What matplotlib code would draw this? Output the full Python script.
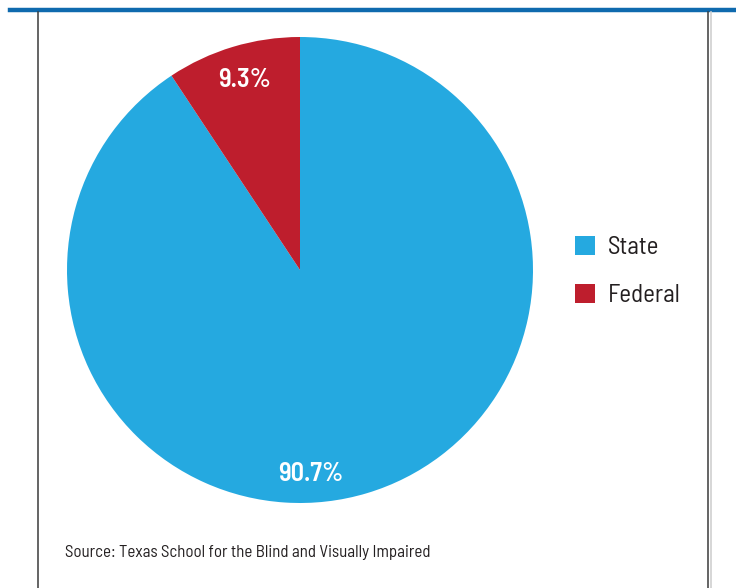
import matplotlib.pyplot as plt
from matplotlib.lines import Line2D

categories = ["State", "Federal"]
shares = [90.7, 9.3]
label_text = ["90.7%", "9.3%"]

BLUE = "#25A9E0"
RED = "#BE1E2D"
FRAME = "#0F6AAE"
GRAY = "#3A3A3A"
INK = "#231F20"

plt.rcParams["font.family"] = ["Barlow Semi Condensed", "DejaVu Sans"]
plt.rcParams["font.stretch"] = "condensed"

W, H = 736, 588
fig = plt.figure(figsize=(W / 100, H / 100), dpi=100)


def px(x, y):
    return x / W, 1 - y / H


# frame: blue rule on top, thin gray sides
fig.add_artist(Line2D([10 / W, 1], [1 - 9.5 / H] * 2, color=FRAME, linewidth=3.2))
for x in (38, 708):
    fig.add_artist(Line2D([x / W] * 2, [0, 1 - 12 / H], color=GRAY, linewidth=1.1))
fig.add_artist(Line2D([710.5 / W] * 2, [0, 1 - 12 / H], color="#D0D0D0", linewidth=1.2))

cx, cy, r = 300, 270, 233
ax = fig.add_axes([(cx - r) / W, 1 - (cy + r) / H, 2 * r / W, 2 * r / H])
wedges, _ = ax.pie(shares, colors=[BLUE, RED], startangle=90, counterclock=False,
                   radius=1, wedgeprops={"linewidth": 0})
ax.set_xlim(-1, 1)
ax.set_ylim(-1, 1)
ax.set_aspect("equal")
ax.axis("off")

# percentage labels
ax.text(0.047, -0.875, label_text[0], color="white", fontsize=19, fontweight="semibold",
        ha="center", va="center")
ax.text(-0.236, 0.817, label_text[1], color="white", fontsize=19, fontweight="semibold",
        ha="center", va="center")

fig.legend(wedges, categories, loc="upper left", bbox_to_anchor=px(552, 213),
           frameon=False, fontsize=18, handlelength=0.8, handleheight=0.8,
           handletextpad=0.55, labelspacing=1.0, labelcolor=INK)

fig.text(*px(65, 552), "Source: Texas School for the Blind and Visually Impaired",
         fontsize=12.2, color=INK, ha="left", va="center")

fig.savefig("out.png", dpi=100)
